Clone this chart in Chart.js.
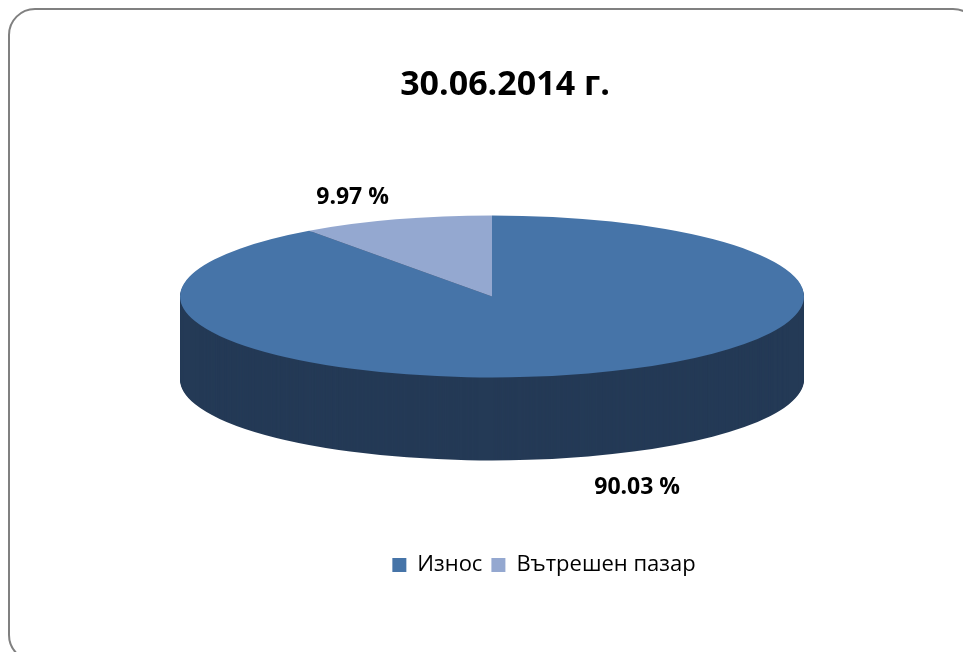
<!DOCTYPE html>
<html>
<head>
<meta charset="utf-8">
<style>
html, body { margin: 0; padding: 0; background: #fff; overflow: hidden; }
#wrap { position: relative; width: 963px; height: 652px; overflow: hidden; }
#frame { position: absolute; left: 8px; top: 8px; width: 972px; height: 654px; border: 2px solid #808080; border-radius: 27px; box-sizing: border-box; }
canvas { position: absolute; left: 0; top: 0; }
</style>
<script src="https://cdn.jsdelivr.net/npm/chart.js@4"></script>
</head>
<body>
<div id="wrap">
<div id="frame"></div>
<canvas id="canvas" width="963" height="652"></canvas>
</div>
<script>
var categories = ["Износ", "Вътрешен пазар"];
var shares = [90.03, 9.97];
var sliceLabels = ["90.03 %", "9.97 %"];
var chartTitle = "30.06.2014 г.";

var colors = ["#4674a8", "#94a8d0"];
var sideColor = "#243a56";
var fontName = "'Open Sans', 'Noto Sans', sans-serif";

// squash factor of the pie and height of its side wall
var squash = 81 / 312;
var depth = 83;

function squashed(ctx, arc, shift) {
    ctx.translate(0, arc.y + shift);
    ctx.scale(1, squash);
    ctx.translate(0, -arc.y);
}

var pie3d = {
    id: "pie3d",
    afterLayout: function (chart) {
        // title and legend are not centred on the canvas in the original
        chart.titleBlock.left += 13;
        chart.titleBlock.right += 13;
        chart.legend.left += 52;
        chart.legend.right += 52;
        chart.legend.top += 58;
        chart.legend.bottom += 58;
    },
    beforeDatasetsDraw: function (chart) {
        var ctx = chart.ctx;
        var arcs = chart.getDatasetMeta(0).data;
        // side wall: the same arcs repeated downwards in the dark colour
        for (var s = depth; s > 0; s--) {
            arcs.forEach(function (arc) {
                ctx.save();
                squashed(ctx, arc, s);
                var keep = arc.options.backgroundColor;
                arc.options.backgroundColor = sideColor;
                arc.draw(ctx);
                arc.options.backgroundColor = keep;
                ctx.restore();
            });
        }
        ctx.save();
        squashed(ctx, arcs[0], 0);
    },
    afterDatasetsDraw: function (chart) {
        var ctx = chart.ctx;
        ctx.restore();

        var arcs = chart.getDatasetMeta(0).data;
        var big = arcs[0], small = arcs[1];
        var a = (big.startAngle + big.endAngle) / 2;
        var b = (small.startAngle + small.endAngle) / 2;
        ctx.save();
        ctx.fillStyle = "#000";
        ctx.font = "bold 23px " + fontName;
        ctx.textAlign = "center";
        ctx.textBaseline = "middle";
        ctx.fillText(sliceLabels[0], big.x + Math.cos(a) * big.outerRadius * 1.51,
            big.y + depth + Math.sin(a) * big.outerRadius * squash * 1.4);
        ctx.fillText(sliceLabels[1], small.x + Math.cos(b) * small.outerRadius * 1.45,
            small.y + Math.sin(b) * small.outerRadius * squash * 1.28);
        ctx.restore();
    }
};

var ctx = document.getElementById("canvas").getContext("2d");
var chart = new Chart(ctx, {
    type: "pie",
    data: {
        labels: categories,
        datasets: [{
            data: shares,
            backgroundColor: colors,
            borderWidth: 0
        }]
    },
    options: {
        responsive: false,
        animation: false,
        radius: 312,
        layout: { padding: { left: 21, right: 0, top: 0, bottom: 124 } },
        plugins: {
            title: {
                display: true,
                text: chartTitle,
                color: "#000",
                font: { family: fontName, size: 34, weight: "bold" },
                padding: { top: 65, bottom: 0 }
            },
            legend: {
                position: "bottom",
                labels: {
                    boxWidth: 14,
                    boxHeight: 14,
                    padding: 9,
                    color: "#000",
                    font: { family: fontName, size: 22 }
                }
            },
            tooltip: { enabled: false }
        }
    },
    plugins: [pie3d]
});
</script>
</body>
</html>
